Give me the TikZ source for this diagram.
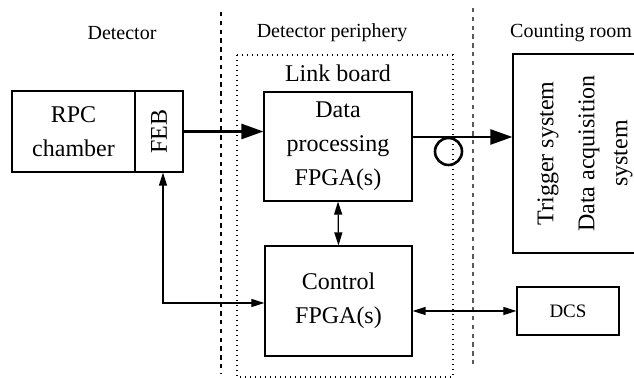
\documentclass[tikz,border=0pt]{standalone}
\usepackage{fontspec}
\setmainfont{Liberation Serif}
\usetikzlibrary{arrows.meta}
\tikzset{
  box/.style={draw, line width=0.6pt, inner sep=0pt, align=center, font=\fontsize{12}{17}\selectfont},
  lbl/.style={inner sep=0pt, font=\fontsize{10}{12}\selectfont},
  thinarr/.style={line width=0.6pt, {Triangle[length=6.5pt,width=4pt]}-{Triangle[length=6.5pt,width=4pt]}},
  thickarr/.style={line width=1.3pt, -{Triangle[length=11pt,width=7.5pt]}},
  sep/.style={line width=0.6pt, dash pattern=on 2.2pt off 2.2pt},
}
\begin{document}
\begin{tikzpicture}[x=0.5pt,y=-0.5pt]
\useasboundingbox (0,0) rectangle (634,378);
% separators
\coordinate (s1t) at (221,12); \coordinate (s1b) at (221,373);
\coordinate (s2t) at (473,8);  \coordinate (s2b) at (473,368);
\draw[sep] (s1t) -- (s1b);
\draw[sep, black!65] (s2t) -- (s2b);
% region labels
\node[lbl] (ldet) at (122,33) {Detector};
\node[lbl] (lper) at (332,33) {Detector periphery};
\node[lbl] (lcnt) at (571,33) {Counting room};
% link board
\draw[line width=0.6pt, dash pattern=on 0.5pt off 2pt] (237,55) rectangle (453,377);
\node[inner sep=0pt, font=\fontsize{12}{17}\selectfont] (llink) at (338,73) {Link board};
% boxes
\node[box, minimum width=61.5pt, minimum height=40.5pt] (rpc) at (73.5,131.5) {RPC\\chamber};
\node[box, minimum width=40.5pt, minimum height=24pt, rotate=90] (feb) at (159,131.5) {FEB};
\node[box, minimum width=74pt, minimum height=54.5pt] (data) at (338,146.5) {Data\\processing\\FPGA(s)};
\node[box, minimum width=73.5pt, minimum height=55pt] (ctrl) at (338.5,301) {Control\\FPGA(s)};
\node[box, minimum width=51pt, minimum height=24pt, font=\fontsize{9.5}{12}\selectfont] (dcs) at (568,311) {DCS};
\node[box, rotate=90, minimum width=99.5pt, minimum height=72pt] (trig) at (585,153.5)
  {Trigger system\\[3.5pt]Data acquisition\\[-0.5pt]system};
% connectors
\draw[thickarr] (feb.south) -- (feb.south -| data.west);
\coordinate (dout) at ([yshift=4.75pt]data.east);
\draw[thickarr] (dout) -- (dout -| trig.north);
\coordinate (loopc) at (448.5,151.5);
\draw[line width=1.3pt] (loopc) circle[radius=6.75pt];
\draw[thinarr] (data.south) -- (ctrl.north);
\draw[thinarr] ([xshift=2pt]feb.west) |- ([yshift=-1pt]ctrl.west);
\draw[thinarr] (ctrl.east |- dcs.west) -- (dcs.west);
\end{tikzpicture}
\end{document}
